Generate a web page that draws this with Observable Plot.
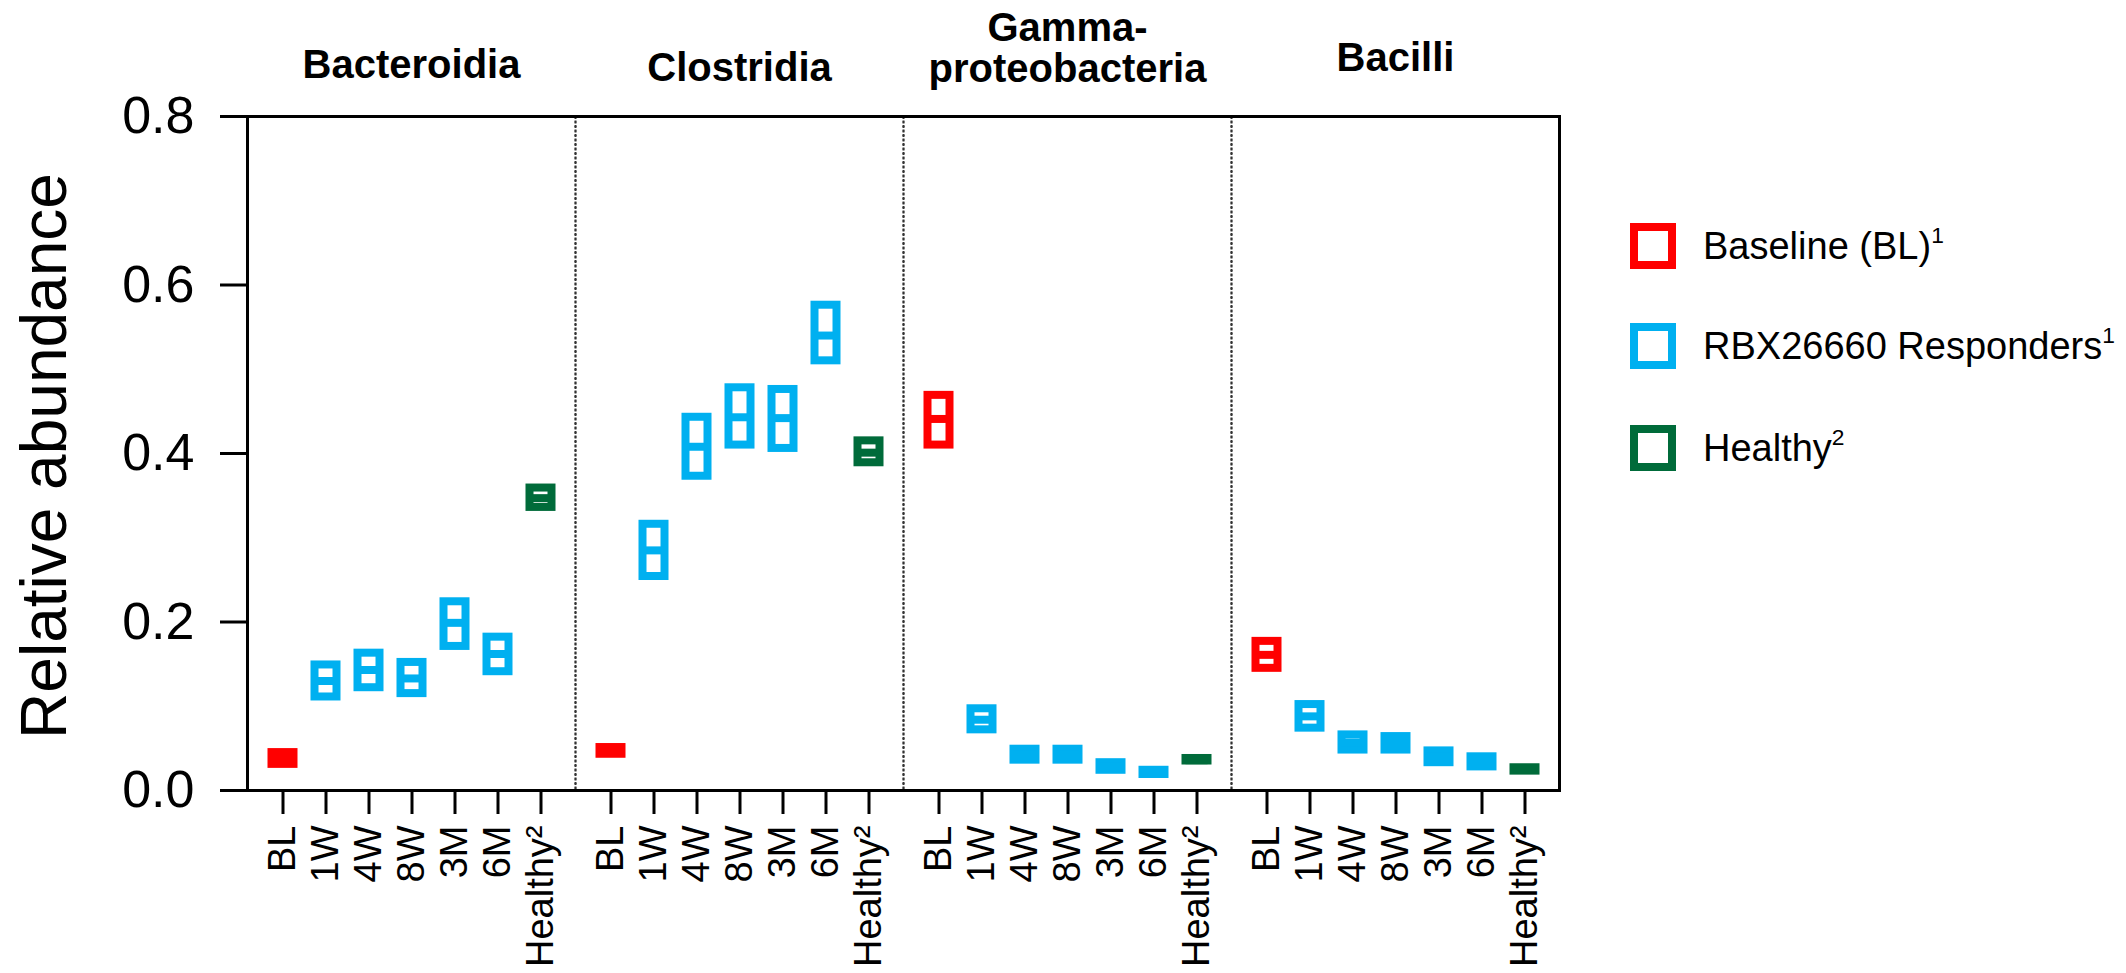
<!DOCTYPE html>
<html>
<head>
<meta charset="utf-8">
<script src="https://cdn.jsdelivr.net/npm/d3@7"></script>
<script src="https://cdn.jsdelivr.net/npm/@observablehq/plot@0.6"></script>
<style>
  html, body { margin: 0; padding: 0; background: #fff; }
  #wrap { position: relative; width: 2126px; height: 973px; overflow: hidden;
          font-family: "Liberation Sans", Arial, Helvetica, sans-serif; color: #000; }
  #ylabel { position: absolute; left: -306px; top: 424px; width: 700px; height: 64px;
            line-height: 64px; font-size: 64px; text-align: center; transform: rotate(-90deg);
            transform-origin: 50% 50%; white-space: nowrap; }
  .leg { position: absolute; left: 1630px; display: flex; align-items: center; height: 46px; }
  .sw { box-sizing: border-box; width: 46px; height: 46px; border: 8px solid; background: #fff; }
  .lt { margin-left: 27px; font-size: 38px; line-height: 46px; white-space: nowrap; }
  .lt sup { font-size: 0.6em; vertical-align: 0.7em; line-height: 0; }
</style>
</head>
<body>
<div id="wrap"></div>
<script>
// ---------- data ----------
const classes = ["Bacteroidia", "Clostridia", "Gammaproteobacteria", "Bacilli"];
const classTitles = ["Bacteroidia", "Clostridia", "Gamma-\nproteobacteria", "Bacilli"];
const timepoints = ["BL", "1W", "4W", "8W", "3M", "6M", "Healthy"];
const timeLabels = ["BL", "1W", "4W", "8W", "3M", "6M", "Healthy\u00B2"];
const groupOfTime = ["Baseline", "Responders", "Responders", "Responders", "Responders", "Responders", "Healthy"];
const groupNames = ["Baseline", "Responders", "Healthy"];
const groupColors = ["#FF0000", "#00B0F0", "#006B3A"];
const legendLabels = ["Baseline (BL)", "RBX26660 Responders", "Healthy"];
const legendSup = ["1", "1", "2"];
const yTicks = [0, 0.2, 0.4, 0.6, 0.8];

// minimum, median (line) and maximum of each floating bar, per class, in timepoint order
const lowValues = [
  [0.031, 0.111, 0.122, 0.115, 0.171, 0.141, 0.336],
  [0.043, 0.254, 0.373, 0.410, 0.406, 0.510, 0.389],
  [0.410, 0.072, 0.036, 0.036, 0.024, 0.019, 0.035],
  [0.145, 0.074, 0.048, 0.048, 0.033, 0.028, 0.023]
];
const medianValues = [
  [0.038, 0.130, 0.143, 0.133, 0.199, 0.162, 0.347],
  [0.047, 0.285, 0.408, 0.443, 0.442, 0.540, 0.401],
  [0.441, 0.084, 0.043, 0.043, 0.028, 0.021, 0.036],
  [0.161, 0.088, 0.057, 0.056, 0.040, 0.034, 0.025]
];
const highValues = [
  [0.045, 0.149, 0.163, 0.152, 0.224, 0.182, 0.359],
  [0.051, 0.316, 0.443, 0.478, 0.476, 0.576, 0.415],
  [0.469, 0.097, 0.049, 0.049, 0.033, 0.024, 0.038],
  [0.177, 0.102, 0.066, 0.064, 0.047, 0.040, 0.027]
];

// ---------- table ----------
const rows = [];
classes.forEach((c, i) => timepoints.forEach((t, j) => rows.push({
  cls: c, time: t, group: groupOfTime[j],
  lo: lowValues[i][j], med: medianValues[i][j], hi: highValues[i][j]
})));

const FONT = '"Liberation Sans", Arial, Helvetica, sans-serif';
const titleMark = (i, dy) => Plot.text([classes[i]], {
  fx: d => d, text: () => classTitles[i], frameAnchor: "top", dy,
  fontSize: 40, fontWeight: "bold", lineAnchor: "middle", lineHeight: 1.02, fill: "#000"
});

const chart = Plot.plot({
  width: 2126, height: 973,
  marginLeft: 245, marginRight: 566, marginTop: 116, marginBottom: 183,
  style: { fontFamily: FONT, color: "#000", background: "transparent", overflow: "visible" },
  fx: { domain: classes, padding: 0, axis: null },
  x: { type: "band", domain: timepoints, paddingInner: 0.1, paddingOuter: 0.345 },
  y: { domain: [0, 0.8] },
  color: { domain: groupNames, range: groupColors },
  marks: [
    Plot.frame({ stroke: "#333", strokeWidth: 2, strokeDasharray: "2,2.5" }),
    Plot.barY(rows, { fx: "cls", x: "time", y1: "lo", y2: "hi", stroke: "group", fill: "white",
                      strokeWidth: 8, insetLeft: 8.5, insetRight: 8.5 }),
    Plot.tickY(rows, { fx: "cls", x: "time", y: "med", stroke: "group", strokeWidth: 8,
                       insetLeft: 8.5, insetRight: 8.5 }),
    Plot.ruleY([0, 0.8], { stroke: "#000", strokeWidth: 3 }),
    Plot.frame({ anchor: "left", facetAnchor: "left", stroke: "#000", strokeWidth: 3 }),
    Plot.frame({ anchor: "right", facetAnchor: "right", stroke: "#000", strokeWidth: 3 }),
    Plot.axisY({ ticks: yTicks, tickFormat: d3.format(".1f"), fontSize: 52, tickSize: 27,
                 tickPadding: 26, strokeWidth: 3, label: null }),
    Plot.axisX({ tickFormat: d => timeLabels[timepoints.indexOf(d)], fontSize: 38, tickSize: 24,
                 tickPadding: 11, tickRotate: -90, strokeWidth: 3, label: null }),
    titleMark(0, -52),
    titleMark(1, -49),
    titleMark(2, -68),
    titleMark(3, -59)
  ]
});

const wrap = document.getElementById("wrap");
chart.style.position = "absolute";
chart.style.left = "0px";
chart.style.top = "0px";
wrap.appendChild(chart);

// y-axis title
const yl = document.createElement("div");
yl.id = "ylabel";
yl.textContent = "Relative abundance";
wrap.appendChild(yl);

// legend
const legendTops = [223, 323, 425];
groupNames.forEach((g, i) => {
  const item = document.createElement("div");
  item.className = "leg";
  item.style.top = legendTops[i] + "px";
  const sw = document.createElement("div");
  sw.className = "sw";
  sw.style.borderColor = groupColors[i];
  const lt = document.createElement("div");
  lt.className = "lt";
  lt.textContent = legendLabels[i];
  const sup = document.createElement("sup");
  sup.textContent = legendSup[i];
  lt.appendChild(sup);
  item.appendChild(sw);
  item.appendChild(lt);
  wrap.appendChild(item);
});
</script>
</body>
</html>
